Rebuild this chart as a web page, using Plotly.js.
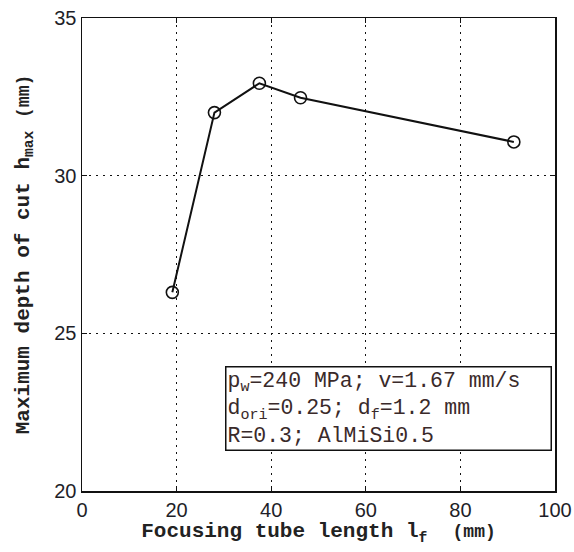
<!DOCTYPE html>
<html><head><meta charset="utf-8">
<script src="https://cdn.plot.ly/plotly-3.0.1.min.js"></script>
<style>html,body{margin:0;padding:0;background:#fff}</style>
</head><body>
<div id="chart" style="width:574px;height:552px"></div>
<script>
const tubeLength = [19.1, 28.0, 37.5, 46.2, 91.3];
const maxDepth = [26.3, 32.0, 32.93, 32.47, 31.07];
const xTicks = [0, 20, 40, 60, 80, 100];
const yTicks = [20, 25, 30, 35];
const infoLines = [
  'p<sub>w</sub>=240 MPa; v=1.67 mm/s',
  'd<sub>ori</sub>=0.25; d<sub>f</sub>=1.2 mm',
  'R=0.3; AlMiSi0.5'
];
const xTitle = '<b>Focusing tube length l<sub>f</sub>  <span style="font-size:18px">(mm)</span></b>';
const yTitle = '<b>Maximum depth of cut h<sub>max</sub> <span style="font-size:18px">(mm)</span></b>';

const trace = {
  x: tubeLength, y: maxDepth, type: 'scatter', mode: 'lines+markers',
  line: {color: '#111', width: 2},
  marker: {symbol: 'circle-open', size: 12, color: '#111', line: {width: 1.6, color: '#111'}},
  showlegend: false
};

const axisCommon = {
  showline: true, linecolor: '#111', linewidth: 1.5, mirror: 'ticks',
  ticks: 'inside', ticklen: 5, tickcolor: '#111',
  showgrid: true, gridcolor: '#111', gridwidth: 1.4, griddash: '2px,5px',
  zeroline: false,
  tickfont: {family: 'Liberation Sans, Arial, sans-serif', size: 20, color: '#1e1e28'}
};

const layout = {
  width: 574, height: 552,
  margin: {l: 82, r: 19, t: 18, b: 61},
  paper_bgcolor: '#fff', plot_bgcolor: '#fff',
  xaxis: Object.assign({}, axisCommon, {
    range: [0, 100], tickvals: xTicks, ticktext: xTicks.map(String),
    title: {text: xTitle, standoff: 0,
      font: {family: 'Liberation Mono, Courier New, monospace', size: 21, color: '#222'}}
  }),
  yaxis: Object.assign({}, axisCommon, {
    range: [20, 35], tickvals: yTicks, ticktext: yTicks.map(String),
    title: {text: yTitle, standoff: 19,
      font: {family: 'Liberation Mono, Courier New, monospace', size: 21, color: '#222'}}
  }),
  annotations: [{
    xref: 'paper', yref: 'paper', x: 0.302, y: 0.265, xanchor: 'left', yanchor: 'top',
    text: infoLines.join('<br>'), align: 'left', showarrow: false,
    font: {family: 'Liberation Mono, Courier New, monospace', size: 21.5, color: '#3a2a2a'},
    bordercolor: '#111', borderwidth: 1.5, borderpad: 1, bgcolor: '#fff', width: 322
  }]
};

Plotly.newPlot('chart', [trace], layout, {displayModeBar: false, staticPlot: true});
</script>
</body></html>
